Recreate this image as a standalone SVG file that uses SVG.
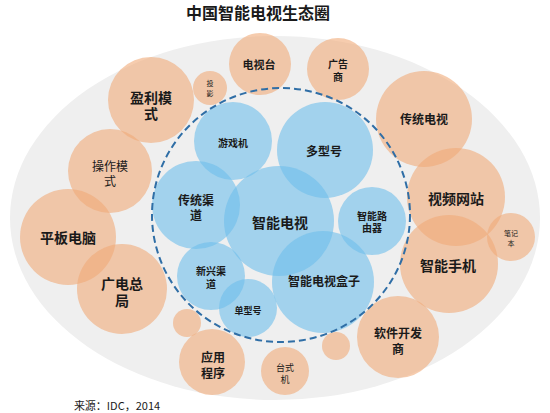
<svg xmlns="http://www.w3.org/2000/svg" width="550" height="413" viewBox="0 0 550 413">
<style>
.o{fill:#f0aa78;fill-opacity:0.6}
.b{fill:#6ebeeb;fill-opacity:0.6}
text{font-family:"Noto Sans CJK SC","Noto Sans",sans-serif;fill:#1a1a1a;text-anchor:middle;dominant-baseline:central}
.bd{font-weight:bold}
</style>
<rect width="550" height="413" fill="#ffffff"/>
<ellipse cx="275" cy="218" rx="265" ry="182" fill="#efefef"/>
<text x="258" y="12" class="bd" font-size="16" fill="#111">中国智能电视生态圈</text>
<g id="n-dianshitai"><circle class="o" cx="260" cy="64" r="31"/><text x="259" y="64" class="bd" font-size="11">电视台</text></g>
<g id="n-guanggao"><circle class="o" cx="338" cy="69" r="31"/><text x="338" y="63" class="bd" font-size="10">广告<tspan x="338" dy="13">商</tspan></text></g>
<g id="n-touying"><circle class="o" cx="210" cy="88" r="17"/><text x="210" y="83" font-size="7">投<tspan x="210" dy="10">影</tspan></text></g>
<g id="n-yingli"><circle class="o" cx="151" cy="100" r="43"/><text x="151" y="97" class="bd" font-size="14">盈利模<tspan x="151" dy="16">式</tspan></text></g>
<g id="n-chuantongdianshi"><circle class="o" cx="424" cy="119" r="48"/><text x="424" y="118" class="bd" font-size="12">传统电视</text></g>
<g id="n-caozuo"><circle class="o" cx="110" cy="171" r="42"/><text x="110" y="165" font-size="12">操作模<tspan x="110" dy="15">式</tspan></text></g>
<g id="n-pingban"><circle class="o" cx="68" cy="237" r="48"/><text x="68" y="237" class="bd" font-size="14">平板电脑</text></g>
<g id="n-guangdian"><circle class="o" cx="122" cy="289" r="45"/><text x="122" y="283" class="bd" font-size="14">广电总<tspan x="122" dy="17">局</tspan></text></g>
<g id="n-small1"><circle class="o" cx="187" cy="323" r="14"/></g>
<g id="n-yingyong"><circle class="o" cx="212" cy="362" r="33"/><text x="213" y="356" class="bd" font-size="12">应用<tspan x="213" dy="16">程序</tspan></text></g>
<g id="n-taishi"><circle class="o" cx="285" cy="371" r="24"/><text x="285" y="367" font-size="9">台式<tspan x="285" dy="12">机</tspan></text></g>
<g id="n-small2"><circle class="o" cx="336" cy="346" r="14"/></g>
<g id="n-ruanjian"><circle class="o" cx="398" cy="337" r="41"/><text x="398" y="332" class="bd" font-size="12">软件开发<tspan x="398" dy="16">商</tspan></text></g>
<g id="n-shipin"><circle class="o" cx="456" cy="197" r="49"/><text x="456" y="198" class="bd" font-size="14">视频网站</text></g>
<g id="n-bijiben"><circle class="o" cx="511" cy="237" r="24"/><text x="511" y="233" font-size="7">笔记<tspan x="511" dy="10">本</tspan></text></g>
<g id="n-shouji"><circle class="o" cx="449" cy="264" r="49"/><text x="448" y="265" class="bd" font-size="14">智能手机</text></g>
<g id="n-youxiji"><circle class="b" cx="233" cy="141" r="39"/><text x="233" y="142" class="bd" font-size="10">游戏机</text></g>
<g id="n-duoxinghao"><circle class="b" cx="325" cy="150" r="48"/><text x="324" y="150" class="bd" font-size="12">多型号</text></g>
<g id="n-chuantongqudao"><circle class="b" cx="196" cy="205" r="44"/><text x="196" y="199" class="bd" font-size="12">传统渠<tspan x="196" dy="15">道</tspan></text></g>
<g id="n-zhinengdianshi"><circle class="b" cx="279" cy="221" r="55"/><text x="280" y="222" class="bd" font-size="14">智能电视</text></g>
<g id="n-luyouqi"><circle class="b" cx="372" cy="221" r="34"/><text x="372" y="215" class="bd" font-size="10">智能路<tspan x="372" dy="12">由器</tspan></text></g>
<g id="n-xinxingqudao"><circle class="b" cx="211" cy="276" r="34"/><text x="211" y="270" class="bd" font-size="10">新兴渠<tspan x="211" dy="13">道</tspan></text></g>
<g id="n-danxinghao"><circle class="b" cx="248" cy="308" r="29"/><text x="248" y="310" class="bd" font-size="9">单型号</text></g>
<g id="n-hezi"><circle class="b" cx="323" cy="282" r="51"/><text x="324" y="280" class="bd" font-size="12">智能电视盒子</text></g>
<g id="connectors"><ellipse cx="281" cy="215" rx="129" ry="127" fill="none" stroke="#2f6ea6" stroke-width="2" stroke-dasharray="7 4"/></g>
<text x="117" y="405" font-size="11" fill="#333">来源：IDC，2014</text>
</svg>
